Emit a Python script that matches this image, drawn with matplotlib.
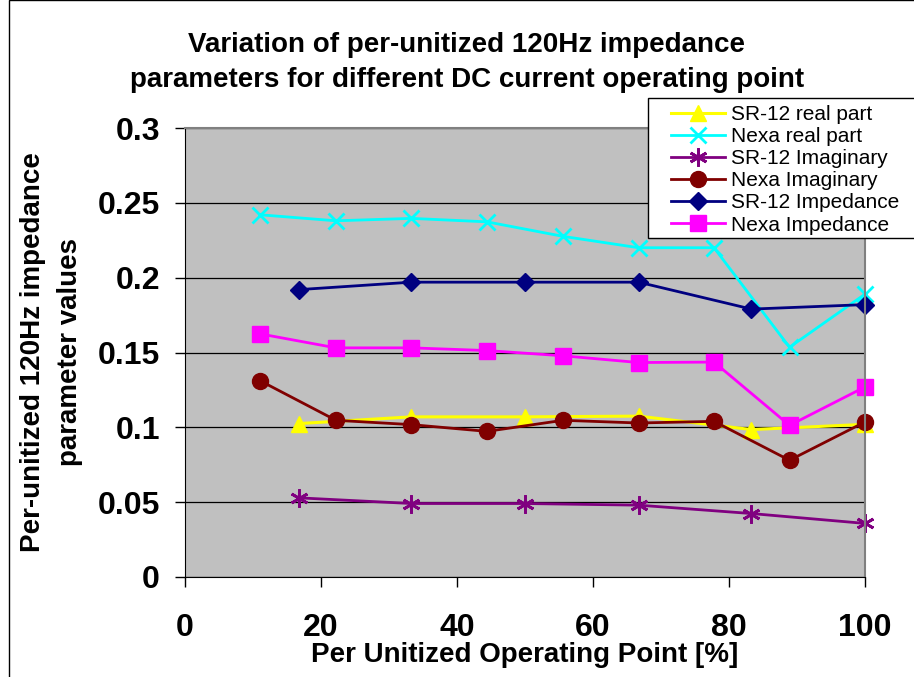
import numpy as np
import matplotlib
matplotlib.use('Agg')
import matplotlib.pyplot as plt
from matplotlib.patches import Rectangle

plt.rcParams['font.family'] = ['Liberation Sans', 'DejaVu Sans']

# operating points (% of rated)
x_sr12 = [16.7, 33.3, 50.0, 66.7, 83.3, 100.0]
x_nexa = [11.1, 22.2, 33.3, 44.4, 55.6, 66.7, 77.8, 88.9, 100.0]

sr12_real = [0.1025, 0.107, 0.107, 0.1075, 0.0985, 0.102]
nexa_real = [0.242, 0.238, 0.2396, 0.2373, 0.2276, 0.220, 0.220, 0.1535, 0.189]
sr12_imag = [0.0529, 0.0491, 0.0491, 0.048, 0.0424, 0.0358]
nexa_imag = [0.131, 0.1047, 0.1018, 0.0973, 0.1047, 0.1029, 0.104, 0.078, 0.1036]
sr12_imp = [0.192, 0.197, 0.197, 0.197, 0.179, 0.182]
nexa_imp = [0.1624, 0.1531, 0.1531, 0.1513, 0.1478, 0.1433, 0.1436, 0.1013, 0.127]

x_ticks = [0, 20, 40, 60, 80, 100]
y_ticks = [0, 0.05, 0.1, 0.15, 0.2, 0.25, 0.3]
y_ticklabels = ['0', '0.05', '0.1', '0.15', '0.2', '0.25', '0.3']

W, H = 914, 677


def fx(px):
    return px / W


def fy(py):
    return 1 - py / H


fig = plt.figure(figsize=(W / 100, H / 100), dpi=100)

# outer chart border
fig.patches.append(Rectangle((fx(9), fy(700)), fx(1000), 700 / H, transform=fig.transFigure,
                             fill=False, edgecolor='black', linewidth=1.0))

ax = fig.add_axes([fx(185), fy(577), fx(865) - fx(185), fy(128) - fy(577)])
ax.set_facecolor('#C0C0C0')

ax.plot(x_sr12, sr12_real, color='#FFFF00', linewidth=2.2, marker='^', markersize=12,
        label='SR-12 real part', clip_on=False)
ax.plot(x_nexa, nexa_real, color='#00FFFF', linewidth=2, marker='x', markersize=11,
        markeredgewidth=2, label='Nexa real part', clip_on=False)
ax.plot(x_sr12, sr12_imag, color='#800080', linewidth=2, marker=(6, 2, 0), markersize=13,
        markeredgewidth=2, label='SR-12 Imaginary', clip_on=False)
ax.plot(x_nexa, nexa_imag, color='#800000', linewidth=2, marker='o', markersize=11.5,
        label='Nexa Imaginary', clip_on=False)
ax.plot(x_sr12, sr12_imp, color='#000080', linewidth=2, marker='D', markersize=9.5,
        label='SR-12 Impedance', clip_on=False)
ax.plot(x_nexa, nexa_imp, color='#FF00FF', linewidth=2, marker='s', markersize=11.5,
        label='Nexa Impedance', clip_on=False)

ax.set_xlim(0, 100)
ax.set_ylim(0, 0.3)
ax.set_xticks(x_ticks)
ax.set_xticklabels([str(v) for v in x_ticks], fontsize=23, fontweight='bold')
ax.set_yticks(y_ticks)
ax.set_yticklabels(y_ticklabels, fontsize=23, fontweight='bold')
ax.tick_params(axis='x', direction='out', length=7, width=1, pad=19)
ax.tick_params(axis='y', direction='out', length=7, width=1, pad=11)

ax.grid(axis='y', color='black', linewidth=0.9)
ax.set_axisbelow(True)
ax.spines['top'].set_color('#808080')
ax.spines['right'].set_color('#808080')
ax.spines['top'].set_linewidth(1.5)
ax.spines['right'].set_linewidth(1.5)

# titles and axis labels
fig.text(fx(467), fy(45), 'Variation of per-unitized 120Hz impedance',
         ha='center', va='center', fontsize=20, fontweight='bold')
fig.text(fx(467), fy(80), 'parameters for different DC current operating point',
         ha='center', va='center', fontsize=20, fontweight='bold')
fig.text(fx(525), fy(655), 'Per Unitized Operating Point [%]',
         ha='center', va='center', fontsize=20, fontweight='bold')
fig.text(fx(33), fy(352), 'Per-unitized 120Hz impedance',
         ha='center', va='center', rotation=90, fontsize=20, fontweight='bold')
fig.text(fx(70), fy(352), 'parameter values',
         ha='center', va='center', rotation=90, fontsize=20, fontweight='bold')

# legend box
fig.patches.append(Rectangle((fx(648), fy(238)), fx(300), (238 - 98) / H,
                             transform=fig.transFigure, facecolor='white',
                             edgecolor='black', linewidth=1.0, zorder=5))
leg = fig.legend(loc='upper left', bbox_to_anchor=(fx(671), fy(105)),
                 frameon=False, fontsize=15, handlelength=2.6, handletextpad=0.3,
                 labelspacing=0.15, borderpad=0, borderaxespad=0, numpoints=1)
leg.set_zorder(6)

fig.savefig('out.png', dpi=100)
